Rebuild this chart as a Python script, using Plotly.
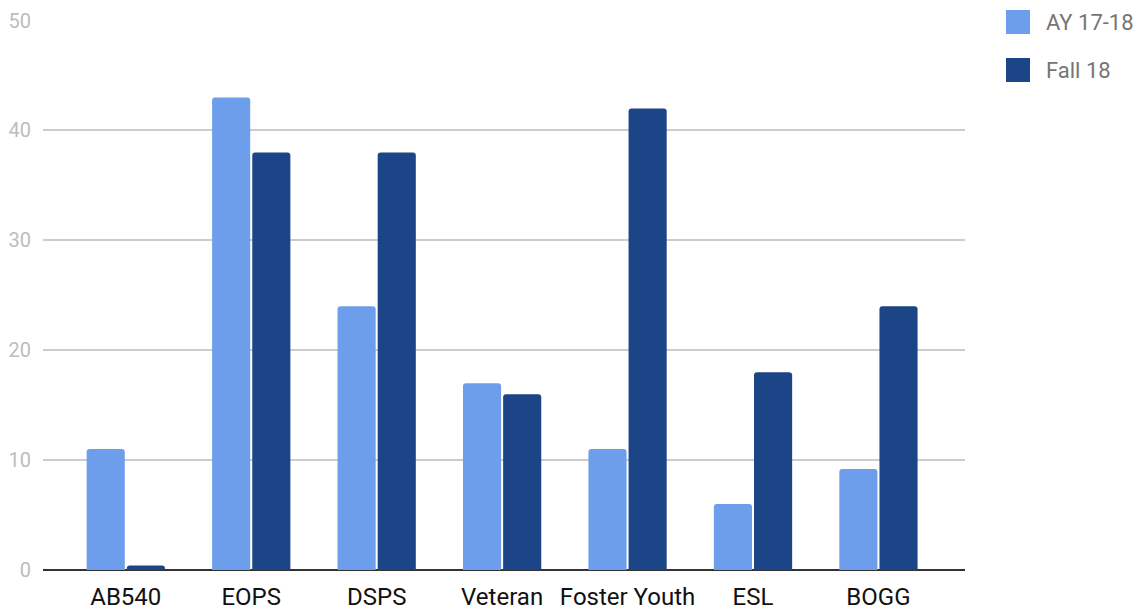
import plotly.graph_objects as go

categories = ["AB540", "EOPS", "DSPS", "Veteran", "Foster Youth", "ESL", "BOGG"]
ay_17_18 = [11, 43, 24, 17, 11, 6, 9.2]
fall_18 = [0.4, 38, 38, 16, 42, 18, 24]
y_ticks = [0, 10, 20, 30, 40, 50]

series = [("AY 17-18", ay_17_18, "#6d9eeb"), ("Fall 18", fall_18, "#1c4587")]

fig = go.Figure()
for name, vals, color in series:
    fig.add_trace(go.Bar(name=name, x=categories, y=vals,
                         marker=dict(color=color, line=dict(width=0))))

# Legend drawn as square swatches with labels to the right of the plot
pw, ph, ml, mt = 1140 - 43 - 175, 611 - 20 - 41, 43, 20


def px(v):
    return (v - ml) / pw


def py(v):
    return 1 - (v - mt) / ph


for i, (name, vals, color) in enumerate(series):
    y0 = 10 + i * 48
    x0, size = 1006, 24
    fig.add_shape(type="rect", xref="paper", yref="paper",
                  x0=px(x0), x1=px(x0 + size), y0=py(y0 + size), y1=py(y0),
                  fillcolor=color, line=dict(width=0))
    fig.add_annotation(xref="paper", yref="paper", x=px(1044), y=py(y0 + 12),
                       xanchor="left", yanchor="middle", showarrow=False,
                       text=name, font=dict(size=22, color="#757575"))

fig.update_layout(
    width=1140, height=611,
    margin=dict(l=43, r=175, t=20, b=41, autoexpand=False),
    paper_bgcolor="white", plot_bgcolor="white",
    barmode="group", bargap=0.36, bargroupgap=0.05,
    barcornerradius=3,
    font=dict(family="Roboto, Arial, sans-serif"),
    showlegend=False,
    xaxis=dict(range=[-0.66, 6.69], showgrid=False, ticks="",
               tickfont=dict(size=24, color="#111"),
               showline=False, zeroline=False, ticklabelstandoff=10),
    yaxis=dict(range=[0, 50.05], tickvals=y_ticks, showgrid=True,
               gridcolor="#cccccc", gridwidth=1.5,
               zeroline=True, zerolinecolor="#333333", zerolinewidth=1.5,
               tickfont=dict(size=20, color="#bdbdbd"), ticks="",
               ticklabelstandoff=11),
)

fig.write_html("out.html")
